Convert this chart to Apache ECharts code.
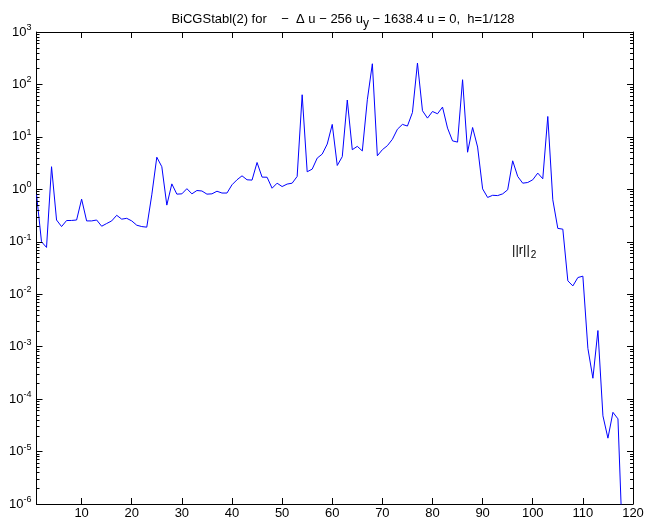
<!DOCTYPE html>
<html>
<head>
<meta charset="utf-8">
<script src="https://cdn.jsdelivr.net/npm/echarts@6/dist/echarts.min.js"></script>
<style>
  html, body { margin: 0; padding: 0; background: #fff; }
  #chart { width: 647px; height: 523px; }
</style>
</head>
<body>
<div id="chart"></div>
<script>
// Residual norm ||r||_2 per BiCGStab(2) iteration (iterations 1..118)
const residualNorm = [
  0.8, 0.1, 0.078, 2.7, 0.26, 0.195, 0.254, 0.255, 0.26, 0.65,
  0.25, 0.25, 0.26, 0.198, 0.223, 0.25, 0.32, 0.27, 0.28, 0.25,
  0.207, 0.195, 0.19, 0.785, 4.1, 2.7, 0.5, 1.27, 0.81, 0.82,
  1.03, 0.82, 0.95, 0.93, 0.81, 0.82, 0.92, 0.85, 0.85, 1.22,
  1.52, 1.81, 1.52, 1.5, 3.25, 1.71, 1.7, 1.05, 1.31, 1.13,
  1.26, 1.31, 1.76, 63.6, 2.16, 2.43, 3.94, 4.7, 7.3, 17.3,
  2.85, 4.2, 50.5, 5.7, 6.6, 5.4, 51, 248, 4.36, 5.7,
  6.8, 9.0, 14.0, 17.3, 16.1, 29.2, 256, 31.5, 22.8, 30.5,
  27.6, 37, 14.7, 8.4, 7.95, 123, 5.1, 15.1, 6.4, 1.02,
  0.70, 0.77, 0.76, 0.82, 0.98, 3.5, 1.76, 1.31, 1.35, 1.52,
  2.04, 1.59, 24.5, 0.63, 0.18, 0.174, 0.018, 0.0144, 0.0208, 0.0221,
  0.00093, 0.00025, 0.00203, 4.8e-5, 1.8e-5, 5.6e-5, 4.2e-5, 1e-7
];

// Axis ticks
const xTicks = [10, 20, 30, 40, 50, 60, 70, 80, 90, 100, 110, 120];
const yDecades = [1e-6, 1e-5, 1e-4, 1e-3, 1e-2, 1e-1, 1e0, 1e1, 1e2, 1e3];

const X_MIN = 1, X_MAX = 120, Y_MIN = 1e-6, Y_MAX = 1e3;

// Minor log ticks 2..9 within each decade
const yMinor = [];
for (let i = 0; i < yDecades.length - 1; i++) {
  for (let k = 2; k <= 9; k++) yMinor.push(Number((k * yDecades[i]).toPrecision(3)));
}

const points = residualNorm.map((v, i) => [i + 1, v]);

const FONT = '"Liberation Sans", Arial, Helvetica, sans-serif';
const black = '#000';
const MAJOR_LEN = 6, MINOR_LEN = 3;
const GRID = { left: 36.5, right: 14, top: 32, bottom: 19 };
const W = 647, H = 523;

// Tick lengths expressed in data units of each axis
const pxPerDecade = (H - GRID.top - GRID.bottom) / Math.log10(Y_MAX / Y_MIN);
const pxPerUnitX = (W - GRID.left - GRID.right) / (X_MAX - X_MIN);
const yFactor = len => Math.pow(10, len / pxPerDecade);
const xSpan = len => len / pxPerUnitX;

// Inward tick segments on all four sides of the box
const tickSegments = [];
xTicks.forEach(v => {
  tickSegments.push([{ coord: [v, Y_MIN] }, { coord: [v, Y_MIN * yFactor(MAJOR_LEN)] }]);
  tickSegments.push([{ coord: [v, Y_MAX] }, { coord: [v, Y_MAX / yFactor(MAJOR_LEN)] }]);
});
const addYTick = (v, len) => {
  tickSegments.push([{ coord: [X_MIN, v] }, { coord: [X_MIN + xSpan(len), v] }]);
  tickSegments.push([{ coord: [X_MAX, v] }, { coord: [X_MAX - xSpan(len), v] }]);
};
yDecades.forEach(v => addYTick(v, MAJOR_LEN));
yMinor.forEach(v => addYTick(v, MINOR_LEN));

function xAxisDef(pos, showLabels) {
  return {
    type: 'value', min: X_MIN, max: X_MAX, position: pos,
    axisLine: { show: true, onZero: false, lineStyle: { color: black, width: 1 } },
    axisTick: { show: false },
    axisLabel: showLabels ? {
      show: true, customValues: xTicks, color: black, fontFamily: FONT, fontSize: 13, margin: 3
    } : { show: false },
    splitLine: { show: false }
  };
}

function yAxisDef(pos, showLabels) {
  return {
    type: 'log', min: Y_MIN, max: Y_MAX, position: pos, splitNumber: 9,
    axisLine: { show: true, onZero: false, lineStyle: { color: black, width: 1 } },
    axisTick: { show: false },
    axisLabel: showLabels ? {
      show: true, margin: 5, color: black, fontFamily: FONT,
      formatter: v => '{b|10}{e|' + Math.round(Math.log10(v)) + '}',
      rich: {
        b: { fontSize: 13, fontFamily: FONT, color: black },
        e: { fontSize: 9, fontFamily: FONT, color: black, padding: [0, 0, 9, 0] }
      }
    } : { show: false },
    splitLine: { show: false },
    minorTick: { show: false }
  };
}

const chart = echarts.init(document.getElementById('chart'));
chart.setOption({
  animation: false,
  title: {
    text: '{t|BiCGStabl(2) for    −  Δ u − 256 u}{s|y}{t| − 1638.4 u = 0,  h=1/128}',
    left: 338, top: 3, textAlign: 'center',
    textStyle: {
      fontWeight: 'normal',
      rich: {
        t: { fontSize: 13, fontWeight: 'normal', fontFamily: FONT, color: black },
        s: { fontSize: 12, fontWeight: 'normal', fontFamily: FONT, color: black, padding: [10, 0, 0, 0] }
      }
    }
  },
  grid: GRID,
  xAxis: [xAxisDef('bottom', true), xAxisDef('top', false)],
  yAxis: [yAxisDef('left', true), yAxisDef('right', false)],
  graphic: [{
    type: 'text', left: 512, top: 244, z: 100,
    style: {
      text: '{n|||r||}{s|2}',
      rich: {
        n: { fontSize: 13, fontFamily: FONT, fill: black },
        s: { fontSize: 10, fontFamily: FONT, fill: black, padding: [9, 0, 0, 1] }
      }
    }
  }],
  series: [{
    type: 'line',
    data: points,
    xAxisIndex: 0, yAxisIndex: 0,
    showSymbol: false, symbol: 'none',
    clip: true,
    lineStyle: { color: '#0000ff', width: 1 },
    z: 2,
    markLine: {
      silent: true,
      animation: false,
      symbol: ['none', 'none'],
      label: { show: false },
      emphasis: { disabled: true },
      lineStyle: { color: black, type: 'solid', width: 1, opacity: 1 },
      data: tickSegments
    }
  }]
});
</script>
</body>
</html>
